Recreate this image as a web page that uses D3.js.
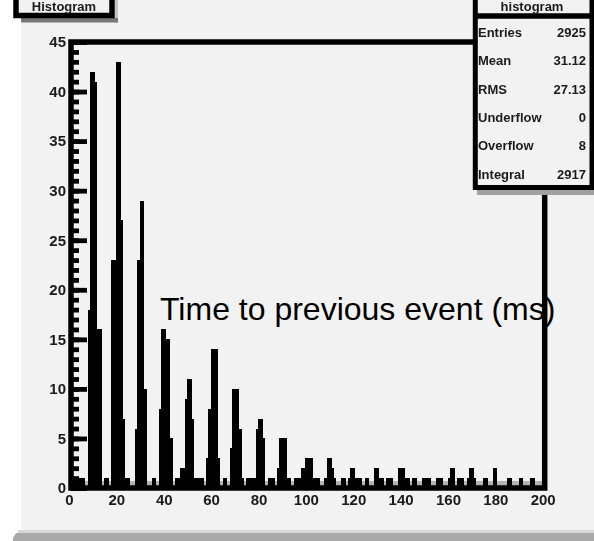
<!DOCTYPE html>
<html><head><meta charset="utf-8">
<script src="https://cdn.jsdelivr.net/npm/d3@7"></script>
<style>html,body{margin:0;padding:0;background:#fff;} svg{display:block;}</style>
</head><body><svg id="c" width="594" height="541"></svg>
<script>
// ---- data (1 ms bins from 0 to 200 ms) ----
const binStart = 0;
const binWidth = 1;
const counts = [
 1,1,1,1,1,1,0,18,42,42,
 41,16,16,0,1,1,0,23,23,43,
 43,27,7,1,1,0,0,6,23,29,
 29,10,0,0,1,1,0,8,16,16,
 15,15,5,0,1,1,2,2,9,11,
 11,7,1,1,1,1,0,3,8,14,
 14,14,3,0,1,1,0,4,10,10,
 10,6,1,0,1,1,1,1,6,7,
 7,5,0,1,1,1,0,2,5,5,
 5,1,1,0,1,1,1,2,2,3,
 3,3,1,1,1,0,0,1,3,3,
 2,1,0,0,1,1,0,1,2,2,
 1,1,1,0,1,1,0,0,2,2,
 1,1,0,1,1,1,0,0,2,2,
 2,1,1,0,1,1,0,0,1,1,
 1,1,0,0,1,1,1,0,0,1,
 2,2,0,1,1,1,0,1,2,2,
 1,0,0,0,1,1,0,0,2,2,
 0,0,0,0,1,1,0,0,0,1,
 1,0,0,0,1,1,0,0,0,0
];
const xDomain = [0, 200];
const yDomain = [0, 45];
const xTickValues = [0,20,40,60,80,100,120,140,160,180,200];
const yTickValues = [0,5,10,15,20,25,30,35,40,45];
const yMinorValues = d3.range(0, 46, 1);
const axisTitle = "Time to previous event (ms)";
const histTitle = "Histogram";
const statsName = "histogram";
const statsLabels = ["Entries","Mean","RMS","Underflow","Overflow","Integral"];
const statsValues = ["2925","31.12","27.13","0","8","2917"];

// ---- layout ----
const W = 594, H = 541;
const frame = {left: 71, right: 544.7, top: 42, bottom: 488};
const FONT = "'Liberation Sans', Arial, Helvetica, sans-serif";
const svg = d3.select("#c");

const defs = svg.append("defs");
defs.append("filter").attr("id","soft").attr("x","-20%").attr("y","-40%").attr("width","140%").attr("height","180%")
  .append("feGaussianBlur").attr("stdDeviation", 0.45);

const x = d3.scaleLinear().domain(xDomain).range([frame.left, frame.right]);
const y = d3.scaleLinear().domain(yDomain).range([frame.bottom, frame.top]);

// canvas background
svg.append("rect").attr("x",21).attr("y",0).attr("width",W-21).attr("height",530).attr("fill","#f2f2f2");
svg.append("rect").attr("x",18).attr("y",530).attr("width",W-18).attr("height",3).attr("fill","#d6d6d6");
svg.append("path").attr("d","M13,541 L13,538 L16,533 L594,533 L594,541 Z").attr("fill","#a9a9a9");

// grey strip along the axis
svg.append("rect").attr("x",frame.left).attr("y",481).attr("width",frame.right-frame.left).attr("height",5).attr("fill","#b2b2b2");

// histogram
const pts = counts.map((c,i)=>({x: binStart + i*binWidth, c}));
pts.push({x: binStart + counts.length*binWidth, c: 0});
const area = d3.area().x(d=>x(d.x)).y0(y(0)).y1(d=>y(d.c)).curve(d3.curveStepAfter);
svg.append("path").attr("d", area(pts)).attr("fill","#000").attr("shape-rendering","crispEdges");

// axis title (drawn inside the frame as in the original)
svg.append("text").attr("x",160).attr("y",320).text(axisTitle)
  .attr("font-family",FONT).attr("font-size",32).attr("fill","#000");

// frame
svg.append("rect").attr("x",frame.left).attr("y",frame.top)
  .attr("width",frame.right-frame.left).attr("height",frame.bottom-frame.top)
  .attr("fill","none").attr("stroke","#000").attr("stroke-width",5.5);

// y tick marks (pointing into the frame)
const gMinor = svg.append("g").attr("transform",`translate(${frame.left},0)`)
  .call(d3.axisRight(y).tickValues(yMinorValues).tickSize(8).tickFormat(""));
const gMajor = svg.append("g").attr("transform",`translate(${frame.left},0)`)
  .call(d3.axisRight(y).tickValues(yTickValues).tickSize(16).tickFormat(""));
[gMinor,gMajor].forEach(g=>{
  g.select(".domain").remove();
  g.selectAll("line").attr("stroke","#000").attr("stroke-width",4.8);
});

// y labels
const gyl = svg.append("g").attr("transform",`translate(${frame.left},0)`)
  .call(d3.axisLeft(y).tickValues(yTickValues).tickSize(0).tickPadding(5));
gyl.select(".domain").remove();
gyl.selectAll("text").attr("font-family",FONT).attr("font-size",15).attr("font-weight","bold")
  .attr("fill","#1a1a1a").attr("filter","url(#soft)");

// x labels
const gxl = svg.append("g").attr("transform",`translate(0,${frame.bottom})`)
  .call(d3.axisBottom(x).tickValues(xTickValues).tickSize(0).tickPadding(6));
gxl.select(".domain").remove();
gxl.selectAll("text").attr("dx",-2).attr("font-family",FONT).attr("font-size",15).attr("font-weight","bold")
  .attr("fill","#1a1a1a").attr("filter","url(#soft)");

// title box (top left)
svg.append("rect").attr("x",115).attr("y",0).attr("width",3).attr("height",22.5).attr("fill","#c4c4c4");
svg.append("rect").attr("x",21).attr("y",18).attr("width",97).attr("height",4.5).attr("fill","#777");
svg.append("rect").attr("x",16).attr("y",-10).attr("width",96).attr("height",25.5)
  .attr("fill","#f2f2f2").attr("stroke","#000").attr("stroke-width",5.5);
svg.append("text").attr("x",64).attr("y",11).attr("text-anchor","middle").text(histTitle)
  .attr("font-family",FONT).attr("font-size",13).attr("font-weight","bold").attr("fill","#1a1a1a").attr("filter","url(#soft)");

// stats box (top right)
svg.append("rect").attr("x",477).attr("y",190).attr("width",117).attr("height",5).attr("fill","#a0a0a0");
svg.append("rect").attr("x",475.3).attr("y",-10).attr("width",116.7).attr("height",197.5)
  .attr("fill","#f2f2f2").attr("stroke","#000").attr("stroke-width",5);
svg.append("line").attr("x1",475.3).attr("x2",592).attr("y1",16).attr("y2",16)
  .attr("stroke","#000").attr("stroke-width",5.5);
svg.append("text").attr("x",532).attr("y",11).attr("text-anchor","middle").text(statsName)
  .attr("font-family",FONT).attr("font-size",13).attr("font-weight","bold").attr("fill","#1a1a1a").attr("filter","url(#soft)");
const rows = svg.append("g");
statsLabels.forEach((lab,i)=>{
  const yy = 32.5 + i*28.3;
  rows.append("text").attr("x",478).attr("y",yy).attr("dy","0.35em").text(lab)
    .attr("font-family",FONT).attr("font-size",13).attr("font-weight","bold").attr("fill","#1a1a1a").attr("filter","url(#soft)");
  rows.append("text").attr("x",586).attr("y",yy).attr("dy","0.35em").attr("text-anchor","end").text(statsValues[i])
    .attr("font-family",FONT).attr("font-size",13).attr("font-weight","bold").attr("fill","#1a1a1a").attr("filter","url(#soft)");
});
</script>
</body></html>
